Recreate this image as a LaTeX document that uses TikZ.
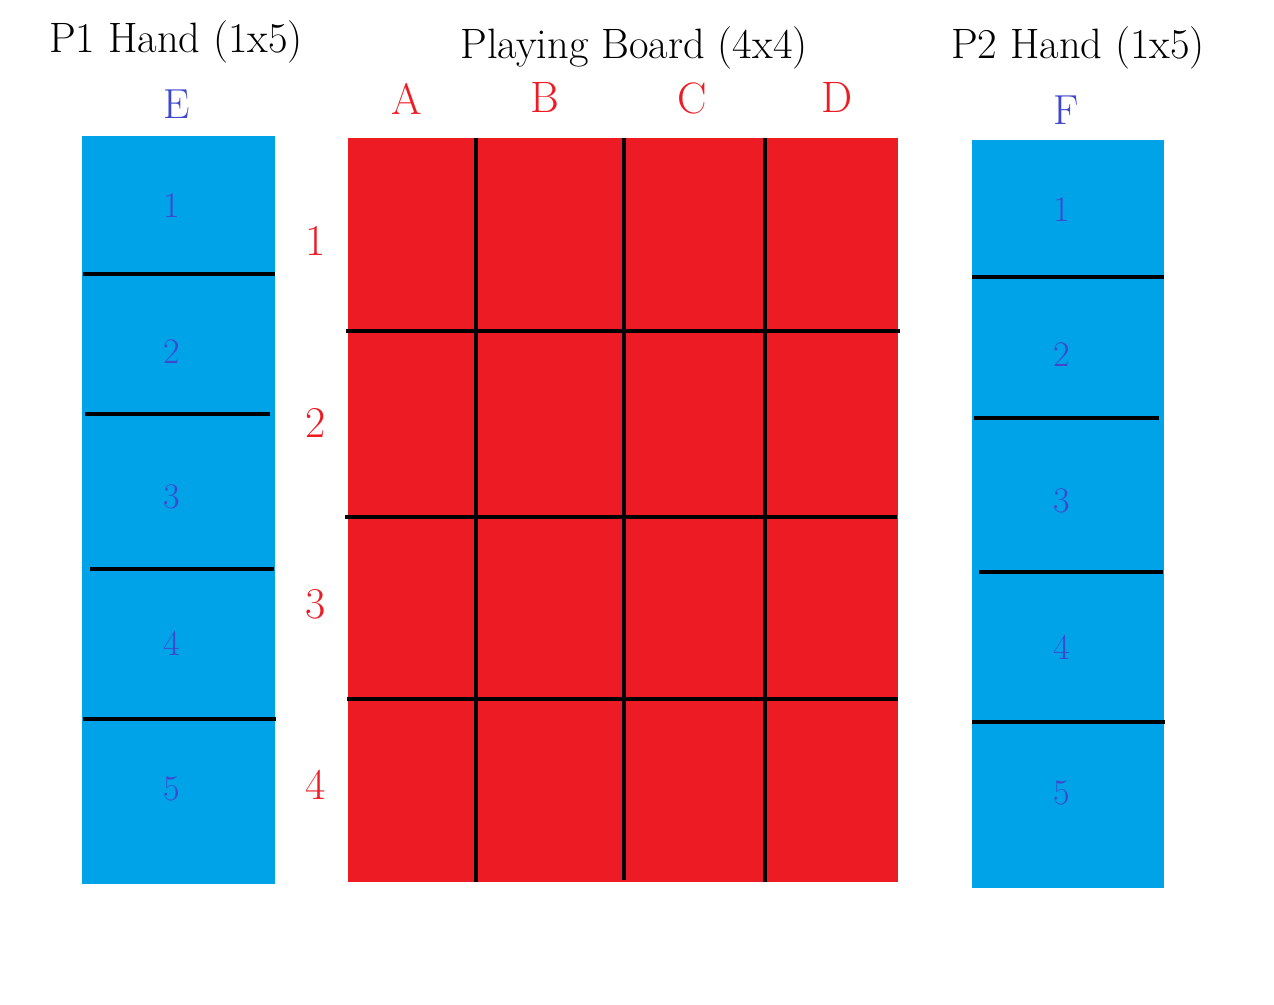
\documentclass[tikz,border=0pt]{standalone}
\definecolor{handblue}{HTML}{00A2E8}
\definecolor{boardred}{HTML}{ED1C24}
\definecolor{labelblue}{HTML}{3F48CC}
\tikzset{
  grid line/.style={line width=4.5pt, black},
  title/.style={font=\fontsize{42.5}{48}\selectfont, text=black, inner sep=0pt},
  collabel/.style={font=\fontsize{44}{50}\selectfont, text=boardred, inner sep=0pt},
  rowlabel/.style={font=\fontsize{44}{50}\selectfont, text=boardred, inner sep=0pt},
  handletter/.style={font=\fontsize{42}{48}\selectfont, text=labelblue, inner sep=0pt},
  handnum/.style={font=\fontsize{36}{42}\selectfont, text=labelblue, inner sep=0pt},
}
\begin{document}
\begin{tikzpicture}[x=1pt,y=-1pt]
\useasboundingbox (0,0) rectangle (1274,1004);
% titles
\node[title] (t1) at (176,42) {P1 Hand (1x5)};
\node[title] (t2) at (634,48) {Playing Board (4x4)};
\node[title] (t3) at (1078,48) {P2 Hand (1x5)};
% left hand
\fill[handblue] (82,136) rectangle (275,884);
\draw[grid line] (83,274) -- (275,274);
\draw[grid line] (85,414) -- (270,414);
\draw[grid line] (90,569) -- (274,569);
\draw[grid line] (83,719) -- (276,719);
\node[handletter] (E) at (177,104) {E};
\node[handnum] (e1) at (172,206) {1};
\node[handnum] (e2) at (172,352) {2};
\node[handnum] (e3) at (172,497) {3};
\node[handnum] (e4) at (172,643) {4};
\node[handnum] (e5) at (172,789) {5};
% board
\fill[boardred] (348,138) rectangle (898,882);
\draw[grid line] (476,138) -- (476,882);
\draw[grid line] (624,138) -- (624,880);
\draw[grid line] (765,138) -- (765,882);
\draw[grid line] (346,331) -- (900,331);
\draw[grid line] (345,517) -- (897,517);
\draw[grid line] (347,699) -- (898,699);
\node[collabel] (A) at (407,99) {A};
\node[collabel] (B) at (545,97) {B};
\node[collabel] (C) at (692,98) {C};
\node[collabel] (D) at (837,97) {D};
\node[rowlabel] (r1) at (316,241) {1};
\node[rowlabel] (r2) at (316,423) {2};
\node[rowlabel] (r3) at (316,604) {3};
\node[rowlabel] (r4) at (316,785) {4};
% right hand
\fill[handblue] (972,140) rectangle (1164,888);
\draw[grid line] (972,277) -- (1164,277);
\draw[grid line] (974,418) -- (1159,418);
\draw[grid line] (979,572) -- (1163,572);
\draw[grid line] (972,722) -- (1165,722);
\node[handletter] (F) at (1066,110) {F};
\node[handnum] (f1) at (1062,210) {1};
\node[handnum] (f2) at (1062,355) {2};
\node[handnum] (f3) at (1062,501) {3};
\node[handnum] (f4) at (1062,647) {4};
\node[handnum] (f5) at (1062,793) {5};
\end{tikzpicture}
\end{document}
